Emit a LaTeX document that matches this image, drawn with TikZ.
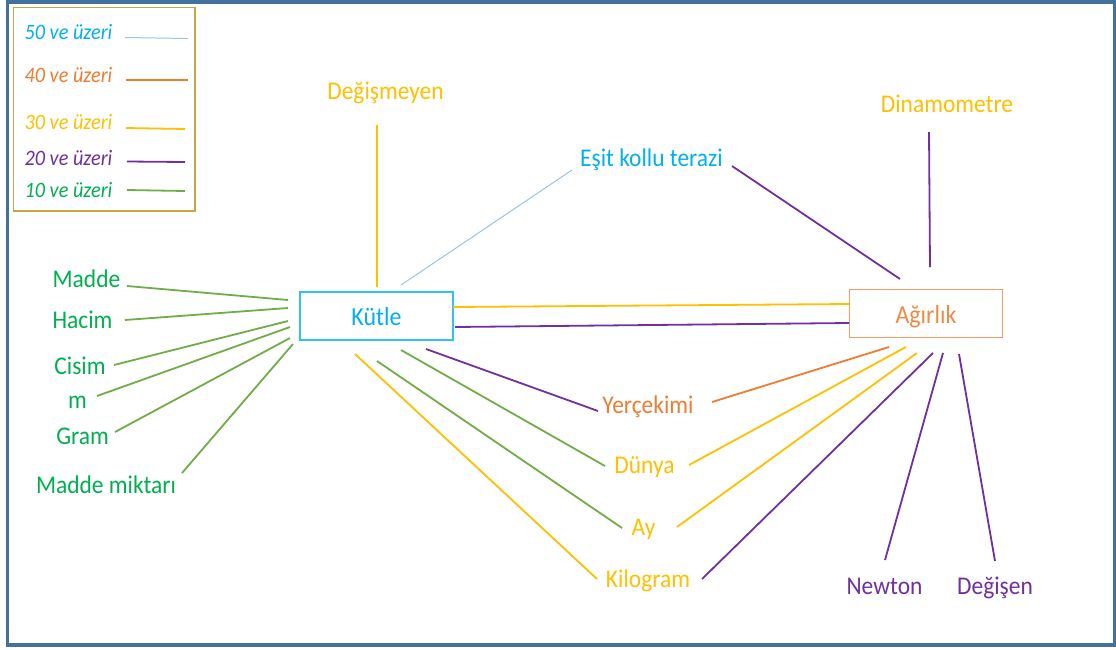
\documentclass[tikz,border=0pt]{standalone}
\usepackage{fontspec}
\setmainfont{Carlito}[FakeStretch=0.92]
\usepackage{xcolor}
\usepackage{tikz}

\definecolor{sari}{HTML}{FFC000}
\definecolor{mor}{HTML}{7030A0}
\definecolor{turuncu}{HTML}{ED7D31}
\definecolor{yesil}{HTML}{70AD47}
\definecolor{yesilyazi}{HTML}{00B050}
\definecolor{mavi}{HTML}{00B0F0}
\definecolor{acikmavi}{HTML}{9DC3E6}
\definecolor{cerceve}{HTML}{41719C}
\definecolor{altin}{RGB}{200,165,70}

\begin{document}
\begin{tikzpicture}[
			x=1pt, y=-1pt,
			word/.style={inner sep=0pt, anchor=base, font=\fontsize{25.5}{30}\selectfont},
			legend/.style={inner sep=0pt, anchor=base, font=\fontsize{22}{26}\selectfont\itshape},
			box/.style={rectangle, draw, line width=1.6pt, minimum width=153pt, minimum height=48pt, text height=19pt, text depth=0pt, inner sep=0pt, font=\fontsize{26}{30}\selectfont},
			link/.style={line width=1.8pt}
			]
			
			% zemin ve cerceve
			\useasboundingbox (0,0) rectangle (1116,649);
			\fill[white] (0,0) rectangle (1116,649);
			\draw[cerceve, line width=3.5pt] (7.5,1.75) rectangle (1114.5,645);
			
			% lejant
			\draw[altin, line width=1.5pt] (13.5,7.5) rectangle (195,211);
			\node (l50) [legend, text=mavi] at (68.5,39) {50 ve üzeri};
			\node (l40) [legend, text=turuncu] at (68.5,82) {40 ve üzeri};
			\node (l30) [legend, text=sari] at (68.5,129) {30 ve üzeri};
			\node (l20) [legend, text=mor] at (68.5,165) {20 ve üzeri};
			\node (l10) [legend, text=yesilyazi] at (68.5,197) {10 ve üzeri};
			\draw [acikmavi, line width=1pt] ([shift={(56.5,-1.5)}]l50.base) -- ++(63,1);
			\draw [turuncu, link] ([shift={(57.5,-2)}]l40.base) -- ++(62,0);
			\draw [sari, link] ([shift={(57.5,-1)}]l30.base) -- ++(59,1);
			\draw [mor, link] ([shift={(58.5,-3.5)}]l20.base) -- ++(58,0.5);
			\draw [yesil, link] ([shift={(58.5,-7)}]l10.base) -- ++(58,1);
			
			% kavramlar
			\node (kutle) [box, draw=mavi!80, text=mavi] at (376.5,316) {Kütle};
			\node (agirlik) [box, draw=turuncu!75, text=turuncu!90] at (926,313.5) {Ağırlık};
			\node (madde) [word, text=yesilyazi] at (86.5,287) {Madde};
			\node (hacim) [word, text=yesilyazi] at (82.5,328) {Hacim};
			\node (cisim) [word, text=yesilyazi] at (80,374) {Cisim};
			\node (msym) [word, text=yesilyazi] at (77.5,408) {m};
			\node (gram) [word, text=yesilyazi] at (82.5,444) {Gram};
			\node (miktar) [word, text=yesilyazi] at (106,493) {Madde miktarı};
			\node (degismeyen) [word, text=sari] at (385.5,99) {Değişmeyen};
			\node (esit) [word, text=mavi] at (651.5,166) {Eşit kollu terazi};
			\node (dinamo) [word, text=sari] at (947,112) {Dinamometre};
			\node (yercekimi) [word, text=turuncu] at (648,413) {Yerçekimi};
			\node (dunya) [word, text=sari] at (644.5,473) {Dünya};
			\node (ay) [word, text=sari] at (643.5,535) {Ay};
			\node (kilogram) [word, text=sari] at (648,587) {Kilogram};
			\node (newton) [word, text=mor] at (884.5,594) {Newton};
			\node (degisen) [word, text=mor] at (995,594) {Değişen};
			
			% baglantilar
			\draw [yesil, link] ([shift={(40.5,-1)}]madde.base) -- ([shift={(-88.5,-16)}]kutle.center);
			\draw [yesil, link] ([shift={(42.5,-8)}]hacim.base) -- ([shift={(-88.5,-8)}]kutle.center);
			\draw [yesil, link] ([shift={(34,-9)}]cisim.base) -- ([shift={(-88.5,5)}]kutle.center);
			\draw [yesil, link] ([shift={(19.5,-12)}]msym.base) -- ([shift={(-86.5,11)}]kutle.center);
			\draw [yesil, link] ([shift={(32.5,-12)}]gram.base) -- ([shift={(-86.5,22)}]kutle.center);
			\draw [yesil, link] ([shift={(76,-20)}]miktar.base) -- ([shift={(-83.5,28)}]kutle.center);
			\draw [sari, line width=1.5pt] ([shift={(-8.5,26)}]degismeyen.base) -- ([shift={(0.5,-29)}]kutle.center);
			\draw [acikmavi, line width=1pt] ([shift={(-79.5,4)}]esit.base) -- ([shift={(24.5,-31)}]kutle.center);
			\draw [sari, link] ([shift={(76.5,-9)}]kutle.center) -- ([shift={(-77,-9.5)}]agirlik.center);
			\draw [mor, link] ([shift={(78.5,11)}]kutle.center) -- ([shift={(-77,9.5)}]agirlik.center);
			\draw [mor, link] ([shift={(49.5,33)}]kutle.center) -- ([shift={(-50,-2)}]yercekimi.base);
			\draw [yesil, link] ([shift={(24.5,34)}]kutle.center) -- ([shift={(-39.5,-7)}]dunya.base);
			\draw [yesil, link] ([shift={(0.5,45)}]kutle.center) -- ([shift={(-21.5,-7)}]ay.base);
			\draw [sari, link] ([shift={(-21.5,38)}]kutle.center) -- ([shift={(-51,-8)}]kilogram.base);
			\draw [turuncu, link] ([shift={(64,-11)}]yercekimi.base) -- ([shift={(-37,33.5)}]agirlik.center);
			\draw [sari, link] ([shift={(44.5,-8)}]dunya.base) -- ([shift={(-20,33.5)}]agirlik.center);
			\draw [sari, link] ([shift={(33.5,-8)}]ay.base) -- ([shift={(-9,39.5)}]agirlik.center);
			\draw [mor, link] ([shift={(54,-8)}]kilogram.base) -- ([shift={(7,39.5)}]agirlik.center);
			\draw [mor, link] ([shift={(0.5,-34)}]newton.base) -- ([shift={(17,39.5)}]agirlik.center);
			\draw [mor, link] ([shift={(0,-33)}]degisen.base) -- ([shift={(33,40.5)}]agirlik.center);
			\draw [mor, link] ([shift={(80.5,0)}]esit.base) -- ([shift={(-26,-34.5)}]agirlik.center);
			\draw [mor, link] ([shift={(-18,20)}]dinamo.base) -- ([shift={(4,-46.5)}]agirlik.center);
			
		\end{tikzpicture}
\end{document}
